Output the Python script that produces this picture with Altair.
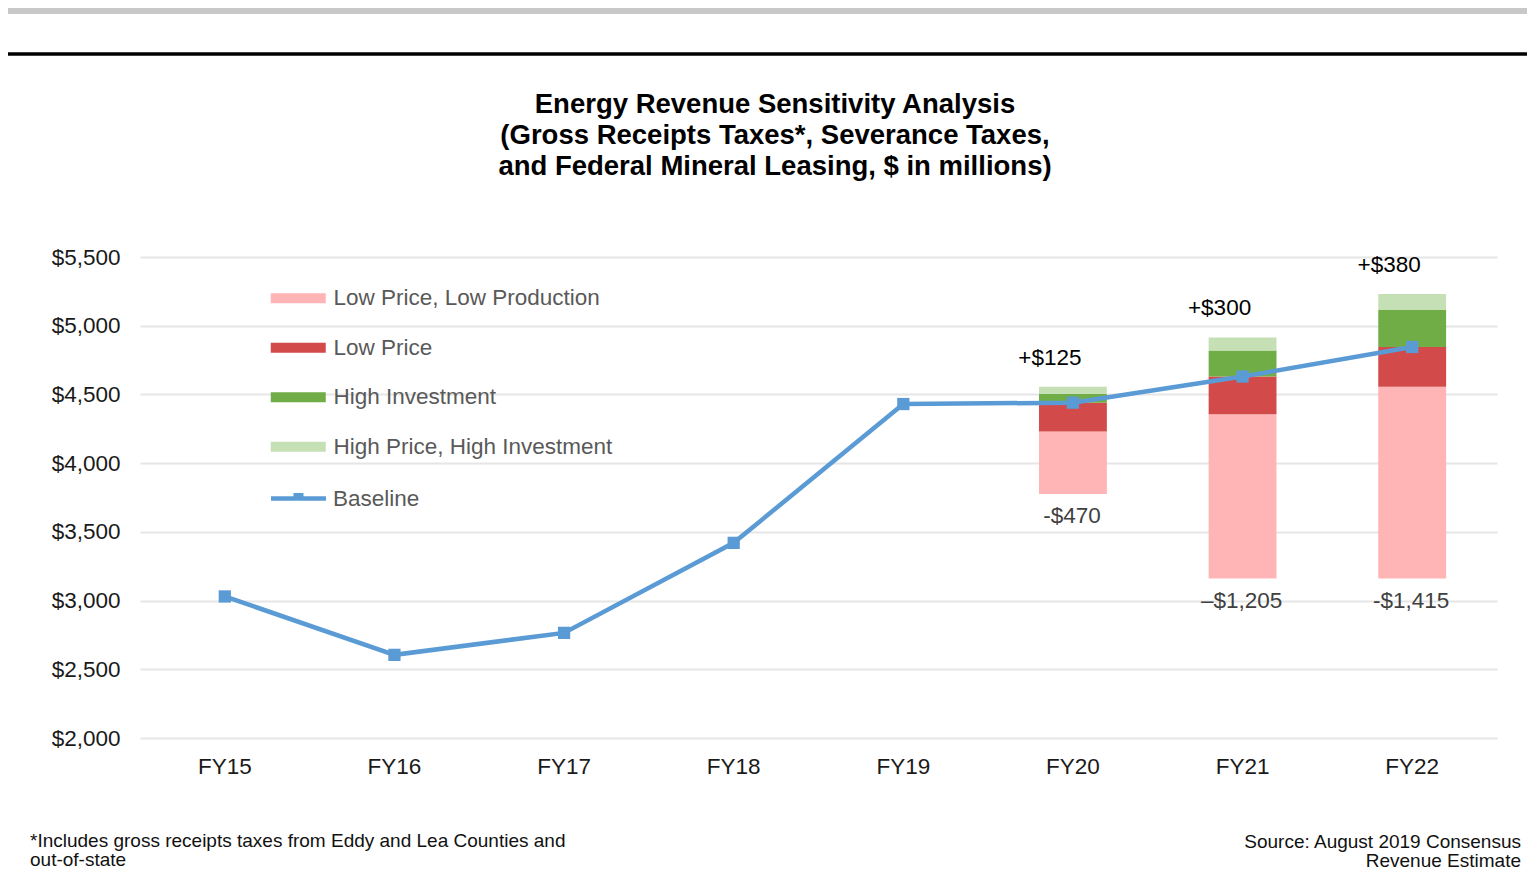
import altair as alt
import pandas as pd

# ---- data ----
years = ["FY15", "FY16", "FY17", "FY18", "FY19", "FY20", "FY21", "FY22"]
baseline = [3030, 2605, 2765, 3420, 4430, 4440, 4630, 4845]

proj_years = ["FY20", "FY21", "FY22"]
low_low_bottom = [3775, 3160, 3160]
low_price_bottom = [4230, 4355, 4555]
high_inv_top = [4505, 4820, 5115]
high_price_top = [4555, 4915, 5230]

upside_labels = ["+$125", "+$300", "+$380"]
downside_labels = ["-$470", "\u2013$1,205", "-$1,415"]

series = ["Low Price, Low Production", "Low Price", "High Investment",
          "High Price, High Investment"]
series_colors = ["#FFB5B5", "#D24A4A", "#70AD47", "#C5E0B4"]
line_name = "Baseline"
line_color = "#5B9BD5"

title_lines = ["Energy Revenue Sensitivity Analysis",
               "(Gross Receipts Taxes*, Severance Taxes,",
               "and Federal Mineral Leasing, $ in millions)"]
footnote_lines = ["*Includes gross receipts taxes from Eddy and Lea Counties and",
                  "out-of-state"]
source_lines = ["Source: August 2019 Consensus", "Revenue Estimate"]

# ---- tables ----
base_df = pd.DataFrame({"year": years, "value": baseline, "series": line_name})

rows = []
for i, yr in enumerate(proj_years):
    b = baseline[years.index(yr)]
    segs = [(low_low_bottom[i], low_price_bottom[i]),
            (low_price_bottom[i], b),
            (b, high_inv_top[i]),
            (high_inv_top[i], high_price_top[i])]
    for s, (lo, hi) in zip(series, segs):
        rows.append({"year": yr, "series": s, "lo": lo, "hi": hi})
bars_df = pd.DataFrame(rows)

lab_df = pd.DataFrame({"year": proj_years, "top": high_price_top,
                       "bottom": low_low_bottom, "up": upside_labels,
                       "down": downside_labels})

one = pd.DataFrame({"k": [0]})  # single row for annotations

FONT = "Liberation Sans"
W, H = 1357, 481

x_scale = alt.Scale(domain=years, paddingInner=0.6, paddingOuter=0.3)
y_scale = alt.Scale(domain=[2000, 5500], nice=False, zero=False)

x_enc = alt.X("year:N", scale=x_scale, sort=years,
              axis=alt.Axis(title=None, labelAngle=0, labelFontSize=22.5,
                            labelFont=FONT, labelColor="#1a1a1a",
                            labelPadding=17, ticks=False, domain=False,
                            grid=False))
y_axis = alt.Axis(title=None, values=[2000, 2500, 3000, 3500, 4000, 4500, 5000, 5500],
                  format="$,.0f", labelFontSize=22.5, labelFont=FONT,
                  labelColor="#1a1a1a", labelPadding=20, ticks=False,
                  domain=False, grid=True, gridColor="#e6e6e6", gridWidth=2)

bars = alt.Chart(bars_df).mark_bar().encode(
    x=x_enc,
    y=alt.Y("lo:Q", scale=y_scale, axis=y_axis),
    y2="hi:Q",
    color=alt.Color("series:N", scale=alt.Scale(domain=series, range=series_colors),
                    legend=alt.Legend(orient="none", legendX=147, legendY=30,
                                      direction="vertical", title=None,
                                      symbolType="M-2.5,-0.45H2.5V0.45H-2.5Z",
                                      symbolSize=484, symbolStrokeWidth=0,
                                      labelFontSize=22.5, labelFont=FONT,
                                      labelColor="#595959", labelOffset=24,
                                      labelLimit=0, rowPadding=26.5, padding=0)),
)

line = alt.Chart(base_df).mark_line(strokeWidth=4.5).encode(
    x=alt.X("year:N", scale=x_scale, sort=years),
    y=alt.Y("value:Q", scale=y_scale),
    stroke=alt.Stroke("series:N", scale=alt.Scale(domain=[line_name], range=[line_color]),
                      legend=alt.Legend(orient="none", legendX=145, legendY=228,
                                        title=None,
                                        symbolType="M-2.5,0H2.5M-0.25,-0.3H0.25V0H-0.25Z",
                                        symbolSize=484, symbolStrokeWidth=4.5,
                                        labelFontSize=22.5, labelFont=FONT,
                                        labelColor="#595959", labelOffset=21,
                                        labelLimit=0, padding=0)),
)

points = alt.Chart(base_df).mark_point(shape="square", filled=True, opacity=1,
                                       size=150, color=line_color).encode(
    x=alt.X("year:N", scale=x_scale, sort=years),
    y=alt.Y("value:Q", scale=y_scale),
)

up_text = alt.Chart(lab_df).mark_text(font=FONT, fontSize=22.5, color="#000000",
                                      dx=-23, dy=-29, baseline="middle").encode(
    x=alt.X("year:N", scale=x_scale, sort=years),
    y=alt.Y("top:Q", scale=y_scale),
    text="up:N",
)
down_text = alt.Chart(lab_df).mark_text(font=FONT, fontSize=22.5, color="#404040",
                                        dx=-1, dy=22, baseline="middle").encode(
    x=alt.X("year:N", scale=x_scale, sort=years),
    y=alt.Y("bottom:Q", scale=y_scale),
    text="down:N",
)

title = alt.Chart(one).mark_text(
    font=FONT, fontSize=27.5, fontWeight="bold", color="#000000",
    align="center", baseline="alphabetic", lineBreak="\n", lineHeight=31,
).encode(x=alt.value(635), y=alt.value(-144), text=alt.value("\n".join(title_lines)))

foot = alt.Chart(one).mark_text(
    font=FONT, fontSize=19, color="#111111", align="left",
    baseline="alphabetic", lineBreak="\n", lineHeight=19,
).encode(x=alt.value(-110), y=alt.value(590), text=alt.value("\n".join(footnote_lines)))

source = alt.Chart(one).mark_text(
    font=FONT, fontSize=19, color="#111111", align="right",
    baseline="alphabetic", lineBreak="\n", lineHeight=19,
).encode(x=alt.value(1381), y=alt.value(591), text=alt.value("\n".join(source_lines)))

gray_bar = alt.Chart(one).mark_rule(color="#c8c8c8", strokeWidth=6).encode(
    x=alt.value(-132), x2=alt.value(1387), y=alt.value(-246))
black_rule = alt.Chart(one).mark_rule(color="#000000", strokeWidth=3.5).encode(
    x=alt.value(-132), x2=alt.value(1387), y=alt.value(-203))

chart = alt.layer(
    bars, line, points, up_text, down_text, title, foot, source, gray_bar, black_rule
).resolve_scale(color="independent").properties(
    width=W, height=H,
    autosize=alt.AutoSizeParams(type="none"),
    padding={"left": 132, "top": 249, "right": 30, "bottom": 135},
).configure_view(stroke=None)

chart.save("out.html", embed_options={"renderer": "svg", "actions": False})
